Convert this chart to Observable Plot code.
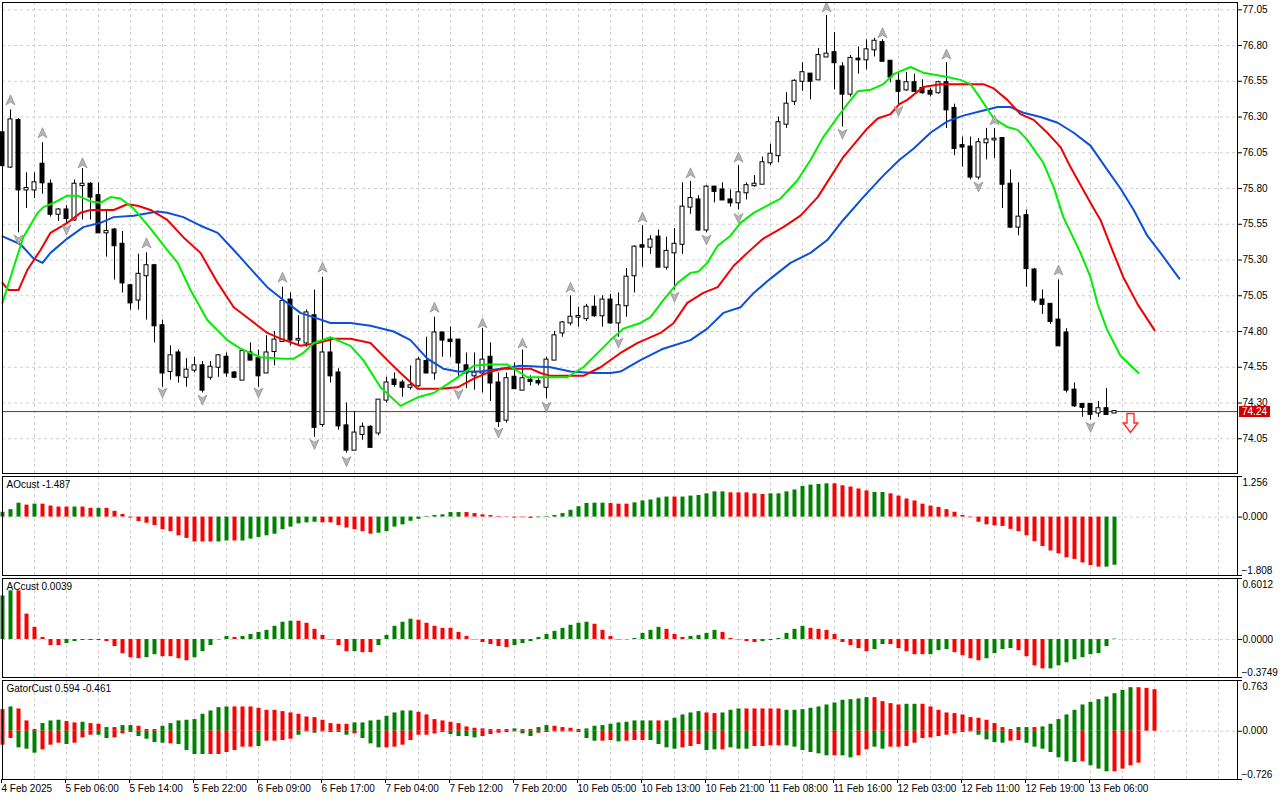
<!DOCTYPE html>
<html><head><meta charset="utf-8">
<script src="https://cdn.jsdelivr.net/npm/d3@7"></script>
<script src="https://cdn.jsdelivr.net/npm/@observablehq/plot@0.6"></script>
<style>
html,body{margin:0;padding:0;background:#fff;}
#root{position:relative;width:1280px;height:800px;overflow:hidden;background:#fff;font-family:"Liberation Sans",Arial,sans-serif;}
#root svg{position:absolute;left:0;}
#lastLbl{position:absolute;left:1239px;width:31px;height:11px;line-height:11px;font-size:10px;color:#fff;background:#d00000;text-align:center;font-family:"Liberation Sans",Arial,sans-serif;}
</style></head>
<body><div id="root"></div>
<script>
// ---------- DATA ----------
const open = [
76.19,75.95,76.275,75.79,75.79,75.97,75.83,75.62,75.65,75.58,
75.82,75.83,75.75,75.49,75.51,75.41,75.12,75.02,75.19,75.26,
74.84,74.52,74.65,74.48,74.53,74.56,74.48,74.55,74.62,74.51,
74.46,74.65,74.61,74.51,74.66,74.73,75.02,74.74,74.72,74.91,
74.15,74.65,74.51,74.14,73.97,74.08,74.13,74.09,74.32,74.46,
74.44,74.41,74.42,74.59,74.51,74.79,74.74,74.74,74.56,74.49,
74.51,74.62,74.44,74.18,74.48,74.39,74.46,74.45,74.41,74.60,
74.79,74.86,74.90,74.89,74.97,74.91,75.02,74.86,74.98,75.19,
75.40,75.39,75.46,75.25,75.35,75.41,75.67,75.72,75.51,75.81,
75.79,75.72,75.70,75.77,75.82,75.83,75.98,76.03,76.25,76.41,
76.55,76.60,76.56,76.72,76.75,76.65,76.46,76.705,76.70,76.77,
76.82,76.69,76.55,76.49,76.54,76.50,76.48,76.47,76.54,76.36,
76.10,76.09,75.88,76.12,76.14,76.15,75.83,75.53,75.61,75.23,
75.02,74.99,74.88,74.79,74.39,74.29,74.29,74.23,74.26,74.23];
const high = [
76.21,76.35,76.29,75.91,75.91,76.12,75.86,75.66,75.68,75.86,
75.94,75.84,75.84,75.64,75.52,75.50,75.13,75.34,75.35,75.27,
74.88,74.70,74.67,74.61,74.62,74.59,74.59,74.64,74.65,74.52,
74.66,74.72,74.67,74.77,74.80,75.11,75.07,74.91,74.95,75.09,
75.18,74.75,74.54,74.30,74.24,74.16,74.14,74.32,74.48,74.51,
74.46,74.56,74.62,74.76,74.90,74.79,74.83,74.74,74.65,74.65,
74.82,74.72,74.51,74.51,74.58,74.67,74.49,74.48,74.62,74.80,
74.87,75.05,74.97,74.99,75.05,75.05,75.06,75.07,75.24,75.40,
75.54,75.47,75.51,75.46,75.52,75.84,75.85,75.75,75.82,75.81,
75.84,75.79,75.96,75.84,75.89,76.02,76.11,76.30,76.47,76.56,
76.68,76.60,76.78,77.01,76.89,76.68,76.73,76.79,76.84,76.85,
76.84,76.69,76.61,76.61,76.60,76.56,76.50,76.55,76.68,76.39,
76.16,76.16,76.15,76.22,76.22,76.15,75.93,75.84,75.65,75.24,
75.09,74.99,75.16,74.82,74.44,74.29,74.29,74.31,74.40,74.24];
const low = [
75.94,75.94,75.49,75.66,75.73,75.76,75.60,75.57,75.55,75.57,
75.58,75.58,75.49,75.32,75.16,75.07,74.95,74.95,74.88,74.72,
74.41,74.46,74.44,74.41,74.51,74.37,74.46,74.48,74.48,74.47,
74.46,74.60,74.41,74.51,74.56,74.73,74.70,74.70,74.69,74.06,
74.13,74.44,74.11,73.95,73.97,74.04,73.99,74.07,74.30,74.41,
74.34,74.39,74.41,74.51,74.46,74.62,74.62,74.47,74.40,74.39,
74.37,74.31,74.13,74.16,74.40,74.39,74.42,74.42,74.33,74.60,
74.76,74.84,74.83,74.87,74.90,74.83,74.85,74.76,74.90,75.07,
75.25,75.34,75.25,75.23,75.09,75.34,75.62,75.50,75.49,75.70,
75.72,75.67,75.65,75.72,75.81,75.83,75.96,75.98,76.22,76.38,
76.48,76.42,76.56,76.72,76.49,76.23,76.44,76.60,76.63,76.72,
76.69,76.54,76.38,76.48,76.48,76.46,76.44,76.46,76.22,76.03,
75.95,75.86,75.86,76.00,76.01,75.66,75.52,75.47,75.11,75.00,
74.92,74.85,74.70,74.37,74.27,74.20,74.18,74.20,74.22,74.23];
const close = [
75.96,76.28,75.79,75.80,75.84,75.84,75.62,75.65,75.59,75.83,
75.83,75.74,75.49,75.50,75.40,75.14,75.00,75.20,75.26,74.84,
74.51,74.63,74.49,74.53,74.56,74.39,74.55,74.63,74.51,74.48,
74.66,74.60,74.49,74.65,74.74,75.01,74.74,74.745,74.93,74.13,
74.65,74.49,74.14,73.97,74.09,74.13,73.99,74.32,74.44,74.43,
74.41,74.42,74.60,74.51,74.79,74.74,74.73,74.58,74.51,74.51,
74.60,74.44,74.17,74.47,74.40,74.47,74.45,74.44,74.60,74.77,
74.86,74.90,74.905,74.97,74.91,75.02,74.86,74.98,75.18,75.39,
75.39,75.44,75.25,75.36,75.41,75.67,75.73,75.51,75.81,75.78,
75.72,75.70,75.77,75.82,75.83,75.98,76.04,76.26,76.39,76.55,
76.61,76.55,76.73,76.74,76.68,76.46,76.71,76.70,76.77,76.83,
76.69,76.58,76.48,76.54,76.48,76.47,76.46,76.54,76.35,76.08,
76.09,75.88,76.12,76.14,76.145,75.83,75.53,75.60,75.24,75.02,
74.99,74.87,74.70,74.39,74.28,74.27,74.22,74.26,74.22,74.24];

// Alligator lines: [bar index, price]
const jaw = [[0,75.465],[2.25,75.41],[3.9,75.31],[5,75.28],[6,75.35],[8.1,75.45],[10.1,75.53],[12.25,75.56],[13.9,75.60],[16.4,75.61],[19.4,75.64],[20.6,75.63],[22.6,75.60],[24.75,75.54],[26.9,75.49],[28.9,75.37],[31,75.24],[33.1,75.11],[35.1,75.02],[37.25,74.93],[39.4,74.89],[41,74.86],[43.5,74.86],[46,74.84],[48.9,74.80],[51,74.74],[53.1,74.61],[55.1,74.54],[56.9,74.52],[59.75,74.52],[62.25,74.54],[64.75,74.56],[68.5,74.55],[71,74.52],[73.9,74.51],[76,74.51],[77.25,74.52],[79.75,74.60],[82.6,74.68],[86,74.74],[88.1,74.82],[90.1,74.93],[92.25,74.97],[93.9,75.07],[96,75.17],[98.5,75.28],[101,75.35],[103.1,75.44],[105.1,75.58],[107.6,75.74],[110.1,75.89],[112.1,76.00],[113.9,76.08],[116,76.19],[118.1,76.27],[120.1,76.31],[122.25,76.34],[124.4,76.37],[126,76.37],[127.6,76.33],[129.75,76.30],[131.9,76.26],[133.9,76.19],[136,76.10],[138.1,75.93],[139.75,75.80],[141.4,75.65],[143.1,75.47],[144.75,75.35],[147.1,75.17]];
const teeth = [[0,75.14],[0.75,75.09],[2,75.09],[3.1,75.23],[4.75,75.37],[6,75.49],[8.1,75.56],[9.75,75.63],[11,75.65],[13.9,75.65],[15.6,75.69],[16.9,75.68],[18.5,75.65],[20.6,75.58],[22.6,75.46],[24.75,75.35],[26.9,75.14],[28.9,74.97],[31,74.88],[33.1,74.79],[34.75,74.75],[37.25,74.70],[39.4,74.72],[41.4,74.75],[43.5,74.75],[46,74.72],[48.1,74.60],[49.75,74.51],[51.9,74.40],[54.75,74.40],[56.9,74.41],[58.9,74.47],[61,74.52],[62.6,74.54],[66,74.54],[67.25,74.51],[68.5,74.49],[72.6,74.49],[74.75,74.55],[77.25,74.65],[79.4,74.72],[82.25,74.79],[83.9,74.86],[85.6,75.00],[87.6,75.07],[89.4,75.11],[91.4,75.26],[93.1,75.35],[95.1,75.45],[97.6,75.53],[99.75,75.61],[101.9,75.74],[103.5,75.88],[105.1,76.02],[106.9,76.14],[108.1,76.22],[109.4,76.29],[111,76.32],[112.1,76.39],[113.1,76.42],[115.1,76.51],[117.25,76.53],[120.1,76.53],[122.6,76.53],[123.9,76.50],[125.6,76.42],[127.25,76.32],[128.9,76.28],[130.6,76.19],[132.25,76.09],[133.5,75.95],[135.1,75.79],[136.4,75.66],[137.25,75.58],[138.5,75.40],[140.1,75.18],[141.9,74.99],[144,74.81]];
const lips = [[0,75.00],[1,75.18],[2.6,75.46],[4.4,75.63],[5.1,75.67],[6.4,75.70],[8.1,75.75],[9.4,75.75],[11,75.71],[12.25,75.70],[13.5,75.74],[14.75,75.73],[16.4,75.66],[18.5,75.52],[20.6,75.37],[21.9,75.28],[23.5,75.09],[25.6,74.88],[28.1,74.74],[29.75,74.68],[32.25,74.62],[35.1,74.61],[36.4,74.61],[37.6,74.65],[38.9,74.72],[41,74.76],[43.5,74.70],[45.1,74.60],[47.25,74.41],[49.75,74.28],[51.9,74.34],[53.9,74.37],[56.4,74.46],[58.9,74.56],[60.6,74.57],[63.1,74.57],[65.6,74.48],[67.6,74.48],[70.6,74.48],[72.6,74.55],[74.75,74.67],[76,74.74],[77.6,74.82],[79.75,74.86],[81,74.90],[82.6,75.02],[84.4,75.14],[86,75.21],[87,75.22],[88.1,75.28],[89.4,75.40],[91,75.47],[92.25,75.56],[93.9,75.63],[95.6,75.68],[97.25,75.73],[99.4,75.86],[101,76.00],[102.6,76.16],[104.4,76.30],[105.6,76.39],[106.9,76.48],[108.5,76.49],[110.1,76.53],[111.4,76.60],[113.5,76.65],[115.1,76.61],[118.1,76.58],[119.75,76.56],[121,76.53],[122.25,76.43],[123.9,76.29],[125.6,76.23],[126.9,76.21],[128.1,76.14],[130.1,75.98],[131.4,75.81],[132.6,75.60],[134.75,75.35],[136,75.18],[136.9,74.99],[138.1,74.81],[139.75,74.63],[142,74.51]];

// Fractals: [bar index, price of arrow]
const fractUp = [[1,76.42],[5,76.19],[10,75.98],[18,75.42],[35,75.18],[40,75.25],[54,74.97],[60,74.86],[65,74.72],[71,75.11],[80,75.60],[86,75.91],[92,76.02],[103,77.07],[110,76.89],[118,76.74],[124,76.28],[132,75.23]];
const fractDown = [[2,75.44],[8,75.51],[20,74.37],[25,74.32],[32,74.37],[39,74.01],[43,73.89],[57,74.36],[62,74.09],[68,74.27],[77,74.72],[84,75.04],[88,75.44],[92,75.59],[105,76.18],[112,76.34],[122,75.81],[136,74.13]];
const sellSignal = [[141,74.16]];
const lastPrice = 74.24;

const priceTicks = [74.05,74.30,74.55,74.80,75.05,75.30,75.55,75.80,76.05,76.30,76.55,76.80,77.05];

// Awesome Oscillator
const aoVal = [0.15,0.23,0.43,0.37,0.40,0.40,0.34,0.31,0.31,0.31,0.31,0.27,0.27,0.27,0.18,0.08,-0.03,-0.14,-0.19,-0.26,-0.39,-0.45,-0.58,-0.66,-0.77,-0.77,-0.77,-0.77,-0.74,-0.74,-0.74,-0.68,-0.63,-0.58,-0.53,-0.39,-0.31,-0.21,-0.18,-0.16,-0.18,-0.18,-0.26,-0.34,-0.39,-0.45,-0.53,-0.50,-0.45,-0.31,-0.24,-0.13,-0.07,0.02,0.05,0.07,0.14,0.14,0.14,0.11,0.07,0.05,0.02,-0.01,-0.03,-0.02,-0.04,-0.02,0.02,0.05,0.11,0.21,0.32,0.42,0.43,0.43,0.42,0.40,0.40,0.44,0.50,0.53,0.59,0.62,0.62,0.62,0.65,0.67,0.72,0.78,0.78,0.75,0.75,0.75,0.72,0.70,0.72,0.72,0.78,0.84,0.95,0.99,1.01,1.03,1.03,0.97,0.93,0.87,0.81,0.76,0.76,0.72,0.65,0.56,0.50,0.40,0.34,0.30,0.23,0.15,0.05,-0.02,-0.16,-0.24,-0.27,-0.29,-0.38,-0.45,-0.58,-0.76,-0.91,-1.05,-1.14,-1.26,-1.31,-1.42,-1.50,-1.55,-1.55,-1.49];
const aoCol = "GGGRGRRRRG"+"RRGRRRRRRR"+"RRRRRRRGGR"+"GGGGGGGGGG"+"RRRRRRRGGG"+"GGGGGGGGRR"+"RRRRRRRGGG"+"GGGGGGRRRG"+"GGGGRGGGGG"+"GRRRRRGGGG"+"GGGGRRRRRG"+"GRRRRRRRRR"+"RRRRRRRRRR"+"RRRRRRRRGG";
const aoTicks = [1.256, 0, -1.808];
const aoTitle = "AOcust -1.487";

// Accelerator Oscillator
const acVal = [0.43,0.48,0.48,0.25,0.12,0.02,-0.06,-0.06,-0.04,-0.02,-0.01,-0.01,-0.01,-0.02,-0.07,-0.14,-0.18,-0.19,-0.18,-0.15,-0.17,-0.17,-0.19,-0.21,-0.18,-0.12,-0.06,-0.004,0.03,0.02,0.03,0.05,0.07,0.09,0.13,0.17,0.18,0.18,0.16,0.10,0.04,-0.004,-0.06,-0.12,-0.12,-0.13,-0.13,-0.06,0.04,0.13,0.17,0.20,0.19,0.16,0.13,0.11,0.11,0.07,0.03,-0.004,-0.03,-0.05,-0.07,-0.08,-0.06,-0.04,-0.02,0.02,0.05,0.08,0.11,0.14,0.16,0.17,0.15,0.09,0.03,-0.005,-0.004,0.01,0.06,0.09,0.12,0.10,0.05,0.02,0.03,0.04,0.06,0.09,0.07,0.01,-0.004,-0.02,-0.03,-0.02,-0.01,0.01,0.06,0.10,0.13,0.11,0.10,0.09,0.05,-0.03,-0.06,-0.09,-0.12,-0.10,-0.05,-0.05,-0.09,-0.12,-0.15,-0.15,-0.15,-0.11,-0.10,-0.13,-0.16,-0.19,-0.21,-0.19,-0.14,-0.10,-0.09,-0.11,-0.17,-0.26,-0.29,-0.29,-0.26,-0.23,-0.20,-0.18,-0.15,-0.14,-0.07,0.004];
const acCol = "GGRRRRRRGG"+"RRGRRRRRGG"+"RRRRGGGGGR"+"GGGGGGGRRR"+"RRRRGRRGGG"+"GGRRRRRRRR"+"RRRRGGGGGG"+"GGGGRRRRRG"+"GGGRRRGGGG"+"RRRRRGGGGG"+"GRRRRRRRRG"+"GRRRRRGGGR"+"RRRGGGGRRR"+"RGGGGGGGGG";
const acTicks = [0.6012, 0, -0.3749];
const acTitle = "ACcust 0.0039";

// Gator Oscillator (upper histogram shown above zero, lower below)
const gatorUp = [0.31,0.35,0.32,0.14,0.01,0.10,0.14,0.15,0.13,0.11,0.12,0.10,0.09,0.04,0.04,0.07,0.07,0.06,0.01,0.01,0.06,0.10,0.14,0.15,0.16,0.24,0.29,0.34,0.35,0.35,0.35,0.35,0.33,0.30,0.30,0.28,0.26,0.24,0.20,0.19,0.15,0.10,0.09,0.09,0.11,0.11,0.14,0.15,0.21,0.26,0.29,0.29,0.27,0.23,0.16,0.14,0.12,0.10,0.05,0.03,0.02,0.01,0.01,0.01,0.02,0.01,0.01,0.04,0.07,0.06,0.04,0.03,0.01,0.02,0.06,0.07,0.09,0.11,0.12,0.14,0.14,0.14,0.14,0.14,0.18,0.23,0.26,0.28,0.26,0.25,0.26,0.30,0.32,0.32,0.32,0.32,0.32,0.32,0.30,0.30,0.31,0.33,0.35,0.38,0.41,0.45,0.46,0.47,0.49,0.49,0.43,0.40,0.38,0.39,0.39,0.39,0.35,0.30,0.26,0.25,0.23,0.19,0.18,0.15,0.10,0.04,0.01,0.04,0.04,0.04,0.05,0.09,0.16,0.23,0.30,0.38,0.42,0.46,0.50,0.55,0.60,0.64,0.64,0.63,0.61];
const gatorUpCol = "RGRRRGGGRR"+"GRRGRGGRRR"+"GGGGGGGGGR"+"RRRRRRRRRR"+"RRRRGGGGGG"+"GGRRRRRRRR"+"RRRRGRRGGR"+"RRRGGGGGGG"+"GGRGGGGGRR"+"GGGRRRRRGG"+"GGGGGGGGGR"+"RRRGGRRRRR"+"RRRRRRRGGR"+"GGGGGGGGGG"+"GGRRR";
const gatorDown = [0.21,0.11,0.25,0.27,0.33,0.28,0.21,0.18,0.20,0.18,0.10,0.06,0.06,0.11,0.10,0.04,0.02,0.08,0.12,0.17,0.18,0.19,0.20,0.29,0.35,0.35,0.35,0.35,0.32,0.29,0.24,0.24,0.23,0.15,0.15,0.14,0.12,0.06,0.01,0.03,0.01,0.02,0.02,0.06,0.04,0.11,0.19,0.25,0.25,0.24,0.21,0.14,0.06,0.06,0.04,0.02,0.05,0.08,0.08,0.10,0.08,0.05,0.03,0.02,0.01,0.04,0.08,0.03,0.02,0.01,0.01,0.01,0.02,0.11,0.15,0.15,0.14,0.16,0.15,0.14,0.14,0.14,0.20,0.25,0.27,0.25,0.23,0.20,0.29,0.28,0.28,0.25,0.27,0.27,0.23,0.23,0.22,0.22,0.22,0.24,0.29,0.32,0.34,0.37,0.37,0.37,0.40,0.37,0.28,0.24,0.27,0.24,0.24,0.23,0.18,0.11,0.10,0.08,0.06,0.04,0.02,0.01,0.06,0.13,0.17,0.18,0.15,0.14,0.18,0.24,0.27,0.32,0.40,0.46,0.47,0.46,0.52,0.57,0.61,0.61,0.57,0.52,0.48];
const gatorDownCol = "RRGGGRRRGR"+"RRGGRRRGGG"+"GRGGGGRRRR"+"RRGRRRRGRG"+"RRGGRGGGRR"+"RRRRRRGGGG"+"RRRRRGGRRR"+"RRGGGRRGRR"+"RGGGGRRRGG"+"RGGGRRRRGG"+"GGGGRGGRRG"+"GRRRRRRRRR"+"RRGGGGRRGG"+"GGGGGRGGGR"+"RRR";
const gatorTicks = [0.763, 0, -0.726];
const gatorTitle = "GatorCust 0.594 -0.461";

// Time axis labels (every 8th bar)
const xLabels = ["4 Feb 2025","5 Feb 06:00","5 Feb 14:00","5 Feb 22:00","6 Feb 09:00","6 Feb 17:00","7 Feb 04:00","7 Feb 12:00","7 Feb 20:00","10 Feb 05:00","10 Feb 13:00","10 Feb 21:00","11 Feb 08:00","11 Feb 16:00","12 Feb 03:00","12 Feb 11:00","12 Feb 19:00","13 Feb 06:00"];

// ---------- BUILD ----------
const root = document.getElementById("root");
const FONT = "'Liberation Sans', Arial, sans-serif";
const GREEN = "#008000", RED = "#ff0000";
const GRID = "#d0d0d0";
const XDOM = [0, 154.375];
const gridIdx = d3.range(0, 155, 4);
const labelIdx = xLabels.map((_, j) => j * 8);

const bars = open.map((o, i) => ({i, o, h: high[i], l: low[i], c: close[i]}));
const toPts = arr => arr.map(([i, v]) => ({i, v}));
const hist = (vals, cols) => vals.map((v, i) => ({i, v, col: cols[i] === "G" ? GREEN : RED}));

const symOf = pts => ({draw(ctx, size) { const r = Math.sqrt(size / Math.PI); pts.forEach(([x, y], k) => k ? ctx.lineTo(x * r, y * r) : ctx.moveTo(x * r, y * r)); ctx.closePath(); }});
const upSym = symOf([[0,-1],[0.9,1],[0,0.45],[-0.9,1]]);
const downSym = symOf([[0,1],[0.9,-1],[0,-0.45],[-0.9,-1]]);
const sellSym = symOf([[-0.35,-0.95],[0.35,-0.95],[0.35,0],[0.72,0],[0,0.95],[-0.72,0],[-0.35,0]]);

const baseStyle = {fontFamily: FONT, fontSize: "10px", background: "transparent", overflow: "visible", color: "black"};

function place(svg, top) { svg.style.top = top + "px"; root.appendChild(svg); return svg; }

// Main price panel
const main = Plot.plot({
  width: 1280, height: 476, marginTop: 2, marginBottom: 3, marginLeft: 2, marginRight: 43,
  style: baseStyle,
  x: {domain: XDOM, axis: null},
  y: {domain: [73.807, 77.101], axis: null},
  marks: [
    Plot.ruleY(priceTicks, {stroke: GRID, strokeDasharray: "3,3"}),
    Plot.ruleX(gridIdx, {stroke: GRID, strokeDasharray: "3,3"}),
    Plot.ruleY([lastPrice], {stroke: "#e00000"}),
    Plot.ruleX(bars, {x: "i", y1: "l", y2: "h", stroke: "black"}),
    Plot.rect(bars, {x1: d => d.i - 0.25, x2: d => d.i + 0.25, y1: d => Math.min(d.o, d.c), y2: d => Math.max(d.o, d.c),
      fill: d => d.c > d.o ? "white" : "black", stroke: "black", insetTop: -0.5, insetBottom: -0.5}),
    Plot.line(toPts(jaw), {x: "i", y: "v", stroke: "#0b50dc", strokeWidth: 2}),
    Plot.line(toPts(teeth), {x: "i", y: "v", stroke: "#f00000", strokeWidth: 2}),
    Plot.line(toPts(lips), {x: "i", y: "v", stroke: "#00ee00", strokeWidth: 2}),
    Plot.dot(toPts(fractUp), {x: "i", y: "v", symbol: upSym, r: 5, fill: "#b4b4b4", stroke: "#8a8a8a", strokeWidth: 0.7}),
    Plot.dot(toPts(fractDown), {x: "i", y: "v", symbol: downSym, r: 5, fill: "#b4b4b4", stroke: "#8a8a8a", strokeWidth: 0.7}),
    Plot.dot(toPts(sellSignal), {x: "i", y: "v", symbol: sellSym, r: 10, fill: "white", stroke: "#ff2a2a", strokeWidth: 1.4}),
    Plot.axisY(priceTicks, {anchor: "right", tickSize: 4, tickPadding: 1, tickFormat: d3.format(".2f"), label: null}),
    Plot.frame({stroke: "black"})
  ]
});
place(main, 0);

// Sub-panel helper
function subPanel(top, height, marginBottom, domain, ticks, fmt, title, barMarks, extra = []) {
  const svg = Plot.plot({
    width: 1280, height, marginTop: 2, marginBottom, marginLeft: 2, marginRight: 43,
    style: baseStyle,
    x: {domain: XDOM, axis: null},
    y: {domain, axis: null},
    marks: [
      Plot.ruleX(gridIdx, {stroke: GRID, strokeDasharray: "3,3"}),
      Plot.ruleY([0], {stroke: GRID, strokeDasharray: "3,3"}),
      ...barMarks,
      Plot.axisY(ticks, {anchor: "right", tickSize: 4, tickFormat: () => "", label: null}),
      Plot.text([ticks[0]], {y: d => d, text: fmt, frameAnchor: "right", textAnchor: "start", dx: 5, dy: 6}),
      Plot.text([ticks[1]], {y: d => d, text: fmt, frameAnchor: "right", textAnchor: "start", dx: 5}),
      Plot.text([ticks[2]], {y: d => d, text: fmt, frameAnchor: "right", textAnchor: "start", dx: 4, dy: -5}),
      Plot.text([title], {frameAnchor: "top-left", textAnchor: "start", lineAnchor: "top", dx: 4, dy: 4, fill: "black"}),
      ...extra,
      Plot.frame({stroke: "black"})
    ]
  });
  return place(svg, top);
}

subPanel(474, 103, 2, [aoTicks[2], aoTicks[0]], aoTicks, d3.format(".3f"), aoTitle, [
  Plot.ruleX(hist(aoVal, aoCol), {x: "i", y1: 0, y2: "v", stroke: "col", strokeWidth: 4})
]);

subPanel(576, 103, 2, [acTicks[2], acTicks[0]], acTicks, d3.format(".4f"), acTitle, [
  Plot.ruleX(hist(acVal, acCol), {x: "i", y1: 0, y2: "v", stroke: "col", strokeWidth: 4})
]);

subPanel(678, 121, 20, [gatorTicks[2], gatorTicks[0]], gatorTicks, d3.format(".3f"), gatorTitle, [
  Plot.ruleX(hist(gatorUp, gatorUpCol), {x: "i", y1: 0, y2: "v", stroke: "col", strokeWidth: 4, insetBottom: 1}),
  Plot.ruleX(hist(gatorDown, gatorDownCol), {x: "i", y1: 0, y2: d => -d.v, stroke: "col", strokeWidth: 4})
], [
  Plot.axisX(labelIdx, {anchor: "bottom", tickSize: 4, tickPadding: 1, textAnchor: "start", dx: -1,
    tickFormat: d => xLabels[d / 8], label: null, fill: "black"})
]);

// Current price label on the price axis
const lbl = document.createElement("div");
lbl.id = "lastLbl";
lbl.textContent = lastPrice.toFixed(2);
lbl.style.top = (main.scale("y").apply(lastPrice) - 5.5) + "px";
root.appendChild(lbl);
</script>
</body></html>
